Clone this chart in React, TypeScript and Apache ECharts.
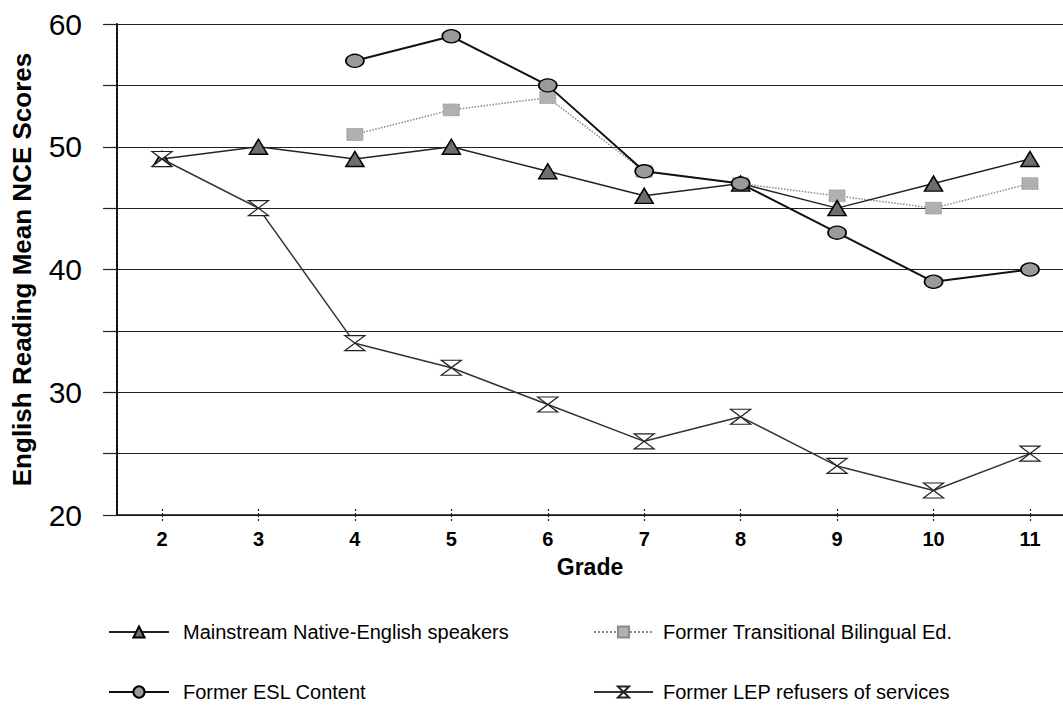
import React, { useEffect, useRef } from "react";
import * as echarts from "echarts";

const grades = [2, 3, 4, 5, 6, 7, 8, 9, 10, 11];
const mainstream = [49, 50, 49, 50, 48, 46, 47, 45, 47, 49];
const transitional = [null, null, 51, 53, 54, 48, 47, 46, 45, 47];
const eslContent = [null, null, 57, 59, 55, 48, 47, 43, 39, 40];
const lepRefusers = [49, 45, 34, 32, 29, 26, 28, 24, 22, 25];
const yTicks = [20, 30, 40, 50, 60];

const seriesNames = [
  "Mainstream Native-English speakers",
  "Former Transitional Bilingual Ed.",
  "Former ESL Content",
  "Former LEP refusers of services",
];

const FONT = "'Liberation Sans', Arial, sans-serif";

function pairs(vals: (number | null)[]) {
  return grades.map((g, i) => [g, vals[i]]).filter((p) => p[1] !== null);
}

export default function App() {
  const ref = useRef<HTMLDivElement>(null);
  useEffect(() => {
    if (!ref.current) return;
    const chart = echarts.init(ref.current, null, { renderer: "svg" });
    const unit = 96.44;
    const xMin = 2 - 45 / unit;
    const xMax = 2 + (1063 - 162) / unit;
    chart.setOption({
      animation: false,
      backgroundColor: "#ffffff",
      grid: { left: 117, right: 0, top: 24, bottom: 198, containLabel: false },
      xAxis: [
        {
          type: "value",
          min: xMin,
          max: xMax,
          name: "Grade",
          nameLocation: "middle",
          nameGap: 40,
          nameTextStyle: { fontFamily: FONT, fontWeight: "bold", fontSize: 23, color: "#000" },
          axisLine: { show: true, onZero: false, lineStyle: { color: "#111", width: 1.5 } },
          axisTick: {
            show: true,
            length: 8,
            customValues: grades,
            lineStyle: { color: "#222", width: 1.2, type: [2, 2] },
          },
          axisLabel: {
            show: true,
            customValues: grades,
            margin: 14,
            fontFamily: FONT,
            fontWeight: "bold",
            fontSize: 20,
            color: "#000",
          },
          splitLine: { show: false },
        },
        {
          type: "value",
          min: xMin,
          max: xMax,
          position: "bottom",
          axisLine: { show: false },
          axisTick: {
            show: true,
            inside: true,
            length: 8,
            customValues: grades,
            lineStyle: { color: "#222", width: 1.2, type: [2, 2] },
          },
          axisLabel: { show: false },
          splitLine: { show: false },
        },
      ],
      yAxis: {
        type: "value",
        min: 20,
        max: 60,
        interval: 5,
        name: "English Reading Mean NCE Scores",
        nameLocation: "middle",
        nameGap: 82,
        nameTextStyle: { fontFamily: FONT, fontWeight: "bold", fontSize: 26, color: "#000" },
        axisLine: { show: true, lineStyle: { color: "#111", width: 2, type: [3, 1] } },
        axisTick: { show: true, length: 14, lineStyle: { color: "#222", width: 1.2 } },
        axisLabel: {
          margin: 35,
          fontFamily: FONT,
          fontSize: 30,
          color: "#000",
          formatter: (v: number) => (yTicks.includes(v) ? String(v) : ""),
        },
        splitLine: { show: true, lineStyle: { color: "#222", width: 1.2 } },
      },
      legend: [
        {
          left: 103,
          top: 617,
          orient: "vertical",
          itemWidth: 60,
          itemHeight: 14,
          itemGap: 40,
          data: [seriesNames[0], seriesNames[2]],
          textStyle: { fontFamily: FONT, fontSize: 20, color: "#000", padding: [0, 0, 0, 9] },
        },
        {
          left: 588,
          top: 617,
          orient: "vertical",
          itemWidth: 59,
          itemHeight: 14,
          itemGap: 40,
          data: [seriesNames[1], seriesNames[3]],
          textStyle: { fontFamily: FONT, fontSize: 20, color: "#000", padding: [0, 0, 0, 5] },
        },
      ],
      series: [
        {
          name: seriesNames[1],
          type: "line",
          data: pairs(transitional),
          symbol: "rect",
          symbolSize: [16, 12],
          showAllSymbol: true,
          lineStyle: { color: "#8a8a8a", width: 1.5, type: "dotted" },
          itemStyle: { color: "#b0b0b0", borderColor: "#8a8a8a", borderWidth: 1, borderType: "dotted" },
          z: 2,
        },
        {
          name: seriesNames[0],
          type: "line",
          data: pairs(mainstream),
          symbol: "triangle",
          symbolSize: [18, 15],
          lineStyle: { color: "#222", width: 1.5 },
          itemStyle: { color: "#6e6e6e", borderColor: "#000", borderWidth: 1.5 },
          z: 3,
        },
        {
          name: seriesNames[2],
          type: "line",
          data: pairs(eslContent),
          symbol: "circle",
          symbolSize: [18, 13],
          lineStyle: { color: "#111", width: 2 },
          itemStyle: { color: "#9a9a9a", borderColor: "#000", borderWidth: 1.5 },
          z: 4,
        },
        {
          name: seriesNames[3],
          type: "line",
          data: pairs(lepRefusers),
          symbol: "path://M0,0 L10,0 L0,10 L10,10 Z",
          symbolSize: [20, 15],
          symbolKeepAspect: false,
          lineStyle: { color: "#333", width: 1.5 },
          itemStyle: { color: "#ffffff", borderColor: "#222", borderWidth: 1.3 },
          z: 5,
        },
      ],
    });
    return () => chart.dispose();
  }, []);
  return (
    <div
      ref={ref}
      style={{ position: "absolute", left: 0, top: 0, width: 1063, height: 713 }}
    />
  );
}
